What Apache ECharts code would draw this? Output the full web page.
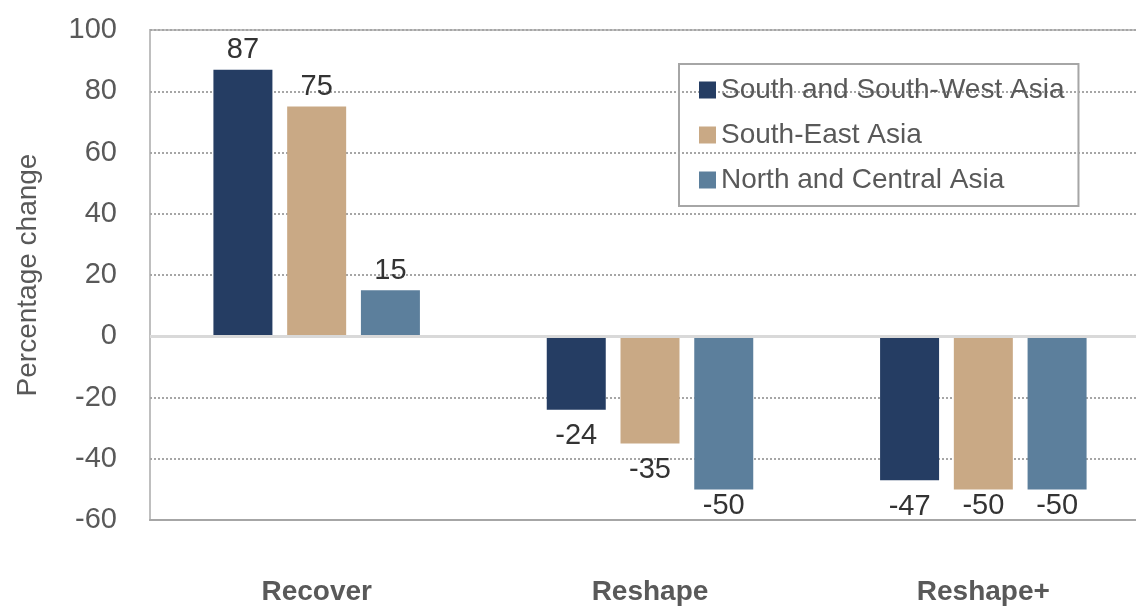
<!DOCTYPE html>
<html><head><meta charset="utf-8">
<script src="https://cdn.jsdelivr.net/npm/echarts@6/dist/echarts.min.js"></script>
<style>html,body{margin:0;padding:0;background:#fff}#c{width:1136px;height:607px}</style>
</head><body><div id="c"></div>
<script>
const categories = ['Recover', 'Reshape', 'Reshape+'];
const southWest = [87, -24, -47];
const southEast = [75, -35, -50];
const northCentral = [15, -50, -50];
const seriesNames = ['South and South-West Asia', 'South-East Asia', 'North and Central Asia'];
const colors = ['#253D63', '#C9A985', '#5C7F9C'];
const FONT = 'Liberation Sans';
const Y_MIN = -60;

function mkData(vals) {
  return vals.map(v => ({
    value: v,
    label: {
      position: v >= 0 ? 'top' : 'bottom',
      // labels near the bottom edge are pulled up to stay inside the plot
      distance: v >= 0 ? 5 : (v - Y_MIN < 12 ? 2 : 12)
    }
  }));
}
function mkSeries(name, vals, color, withZero) {
  const s = {
    name: name, type: 'bar', data: mkData(vals), barWidth: 59, barGap: '25%',
    itemStyle: { color: color },
    label: { show: true, color: '#333333', fontFamily: FONT, fontSize: 29 },
    animation: false
  };
  if (withZero) {
    s.markLine = {
      silent: true, symbol: 'none', label: { show: false },
      lineStyle: { type: 'solid', color: '#d9d9d9', width: 3 },
      data: [{ yAxis: 0 }], animation: false
    };
  }
  return s;
}
const chart = echarts.init(document.getElementById('c'));
chart.setOption({
  animation: false,
  color: colors,
  grid: { left: 150, top: 30, height: 490, width: 1000, outerBoundsMode: 'none', show: true, borderColor: '#bfbfbf', borderWidth: 2, containLabel: false },
  legend: {
    orient: 'vertical', left: 679, top: 64,
    itemWidth: 17, itemHeight: 17, itemGap: 17, icon: 'rect',
    borderColor: '#a6a6a6', borderWidth: 2, padding: [12, 14, 12, 20],
    textStyle: { fontFamily: FONT, fontSize: 28, color: '#595959', lineHeight: 28 },
    data: seriesNames
  },
  xAxis: {
    type: 'category', data: categories,
    axisLine: { onZero: false, lineStyle: { color: '#a6a6a6', width: 2 } },
    axisTick: { show: false },
    axisLabel: { margin: 58, fontFamily: FONT, fontSize: 28, fontWeight: 'bold', color: '#595959' }
  },
  yAxis: {
    type: 'value', min: Y_MIN, max: 100, interval: 20,
    name: 'Percentage change', nameLocation: 'middle', nameGap: 108,
    nameTextStyle: { fontFamily: FONT, fontSize: 28, color: '#595959' },
    axisLine: { show: false }, axisTick: { show: false },
    axisLabel: { margin: 33, fontFamily: FONT, fontSize: 29, color: '#595959' },
    splitLine: { lineStyle: { type: [2, 2], color: '#a6a6a6', width: 2 } }
  },
  series: [
    mkSeries(seriesNames[0], southWest, colors[0], true),
    mkSeries(seriesNames[1], southEast, colors[1], false),
    mkSeries(seriesNames[2], northCentral, colors[2], false)
  ]
});
</script></body></html>
